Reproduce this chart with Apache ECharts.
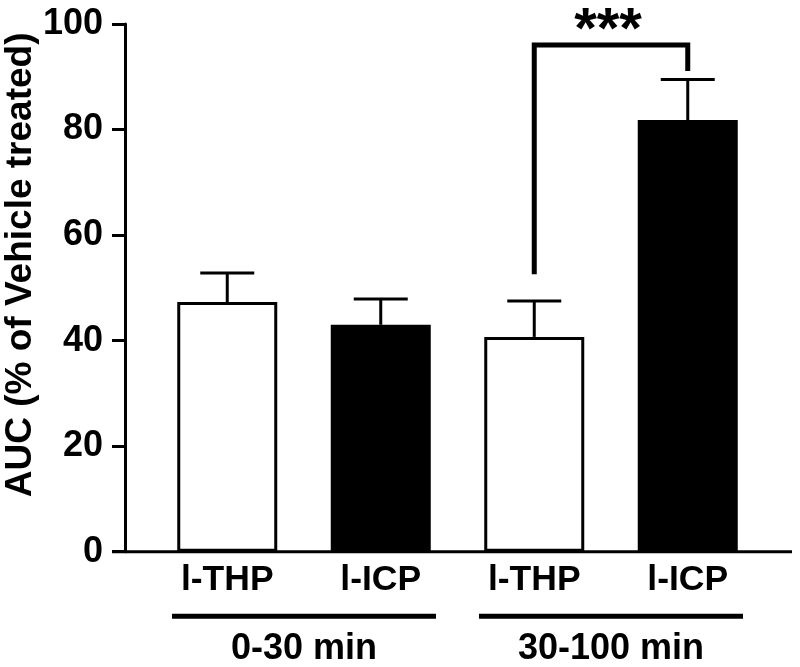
<!DOCTYPE html>
<html>
<head>
<meta charset="utf-8">
<script src="https://cdn.jsdelivr.net/npm/echarts@6/dist/echarts.min.js"></script>
<style>
html,body{margin:0;padding:0;background:#fff;}
#chart{width:800px;height:667px;}
</style>
</head>
<body>
<div id="chart"></div>
<script>
// ---- data ----
const categories = ['l-THP', 'l-ICP', 'l-THP', 'l-ICP'];
const means = [47.3, 43.0, 40.7, 81.8];
const errUpper = [52.8, 47.9, 47.5, 89.5];
const barFills = ['#ffffff', '#000000', '#ffffff', '#000000'];
const groupLabels = ['0-30 min', '30-100 min'];
const groupSpans = [[0, 1], [2, 3]];
const yTicks = { min: 0, max: 100, interval: 20 };
const bracketIdx = [2, 3];
const bracketY = [52.6, 96.0, 91.1]; // left foot, top, right foot
const sigLabel = '***';
const yTitle = 'AUC (% of Vehicle treated)';

const FONT = '"Liberation Sans", Arial, sans-serif';
const chart = echarts.init(document.getElementById('chart'), null, { renderer: 'canvas' });

const option = {
  backgroundColor: '#ffffff',
  animation: false,
  grid: { left: 150.5, right: 35.5, top: 24, bottom: 115.3, containLabel: false, outerBoundsMode: 'none' },
  xAxis: [
    {
      type: 'category', data: categories, gridIndex: 0,
      axisLine: { show: false }, axisTick: { show: false },
      axisLabel: { fontSize: 35.5, fontWeight: 'bold', color: '#000', fontFamily: FONT, margin: 11 },
      splitLine: { show: false }
    },
    {
      type: 'category', data: groupLabels, gridIndex: 0, position: 'bottom',
      axisLine: { show: false }, axisTick: { show: false },
      axisLabel: { fontSize: 36, fontWeight: 'bold', color: '#000', fontFamily: FONT, margin: 79 },
      splitLine: { show: false }
    }
  ],
  yAxis: {
    type: 'value', min: yTicks.min, max: yTicks.max, interval: yTicks.interval,
    offset: 25.5,
    name: yTitle, nameLocation: 'middle', nameRotate: 90, nameGap: 86, nameMoveOverlap: false,
    nameTextStyle: { fontSize: 37, fontWeight: 'bold', color: '#000', fontFamily: FONT, padding: [0, 0, 0, 46] },
    axisLine: { show: true, lineStyle: { color: '#000', width: 3 } },
    axisTick: { show: true, length: 13, lineStyle: { color: '#000', width: 3 } },
    axisLabel: { fontSize: 36, fontWeight: 'bold', color: '#000', fontFamily: FONT, margin: 22 },
    splitLine: { show: false }
  },
  series: [
    {
      type: 'bar', xAxisIndex: 0,
      barWidth: 100,
      data: means.map((v, i) => ({ value: v, itemStyle: { color: barFills[i] } })),
      itemStyle: { borderColor: '#000', borderWidth: 3 },
      z: 2
    },
    {
      type: 'custom', xAxisIndex: 0, z: 3,
      data: means.map((v, i) => [i, v, errUpper[i]]),
      renderItem: function (params, api) {
        const base = api.coord([api.value(0), api.value(1)]);
        const top = api.coord([api.value(0), api.value(2)]);
        const hw = 27;
        return {
          type: 'group',
          children: [
            { type: 'line', shape: { x1: base[0], y1: base[1], x2: top[0], y2: top[1] }, style: { stroke: '#000', lineWidth: 3 } },
            { type: 'line', shape: { x1: top[0] - hw, y1: top[1], x2: top[0] + hw, y2: top[1] }, style: { stroke: '#000', lineWidth: 3 } }
          ]
        };
      }
    },
    {
      type: 'custom', xAxisIndex: 0, z: 3, clip: false,
      data: [[bracketIdx[0], bracketIdx[1], bracketY[0], bracketY[1], bracketY[2]]],
      renderItem: function (params, api) {
        const a = api.coord([api.value(0), api.value(2)]);
        const b = api.coord([api.value(0), api.value(3)]);
        const c = api.coord([api.value(1), api.value(3)]);
        const d = api.coord([api.value(1), api.value(4)]);
        return {
          type: 'group',
          children: [
            { type: 'polyline', shape: { points: [a, b, c, d] }, style: { stroke: '#000', lineWidth: 5, fill: null } },
            { type: 'text', x: (b[0] + c[0]) / 2 - 3, y: b[1] - 42,
              style: { text: sigLabel, fill: '#000', fontSize: 58, fontWeight: 'bold', fontFamily: FONT, align: 'center', verticalAlign: 'top' } }
          ]
        };
      }
    },
    {
      type: 'custom', xAxisIndex: 0, z: 3, clip: false,
      data: groupSpans.map(s => [s[0], s[1]]),
      renderItem: function (params, api) {
        const s = api.coord([api.value(0), 0]);
        const e = api.coord([api.value(1), 0]);
        const ext = api.size([1, 0])[0] * 0.36;
        const y = s[1] + 64.5;
        return { type: 'line', shape: { x1: s[0] - ext, y1: y, x2: e[0] + ext, y2: y }, style: { stroke: '#000', lineWidth: 5 } };
      }
    }
  ]
};
chart.setOption(option);

// x-axis baseline spanning from the y-axis tick end to near the right edge
const zeroY = chart.convertToPixel({ yAxisIndex: 0 }, 0);
const yAxisX = 150.5 - 25.5;
chart.setOption({
  graphic: [{
    type: 'line', z: 10,
    shape: { x1: yAxisX - 13, y1: zeroY, x2: 792, y2: zeroY },
    style: { stroke: '#000', lineWidth: 3 }
  }]
});
</script>
</body>
</html>
